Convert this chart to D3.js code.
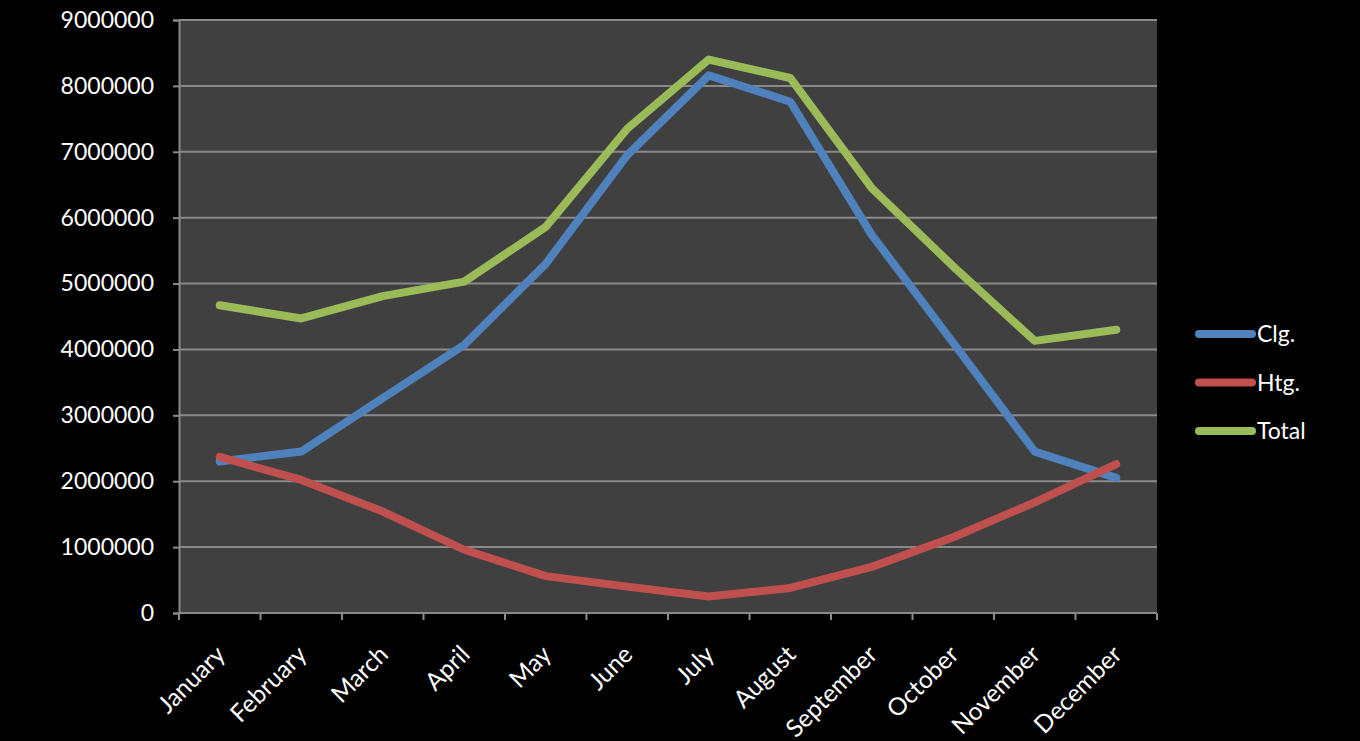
<!DOCTYPE html>
<html>
<head>
<meta charset="utf-8">
<script src="https://cdn.jsdelivr.net/npm/d3@7"></script>
<style>
  html, body { margin: 0; padding: 0; background: #000; }
  svg { display: block; }
  text { font-family: Lato, "Open Sans", sans-serif; fill: #fff; }
</style>
</head>
<body>
<svg id="chart" width="1360" height="741"></svg>
<script>
// Monthly loads
const months = ["January", "February", "March", "April", "May", "June",
                "July", "August", "September", "October", "November", "December"];
const clg   = [2300000, 2450000, 3260000, 4070000, 5300000, 6950000,
               8160000, 7760000, 5740000, 4100000, 2450000, 2050000];
const htg   = [2370000, 2020000, 1540000, 960000, 560000, 400000,
               250000, 380000, 700000, 1150000, 1680000, 2260000];
const total = [4670000, 4470000, 4810000, 5030000, 5860000, 7350000,
               8400000, 8120000, 6450000, 5260000, 4130000, 4300000];
const yTicks = [0, 1000000, 2000000, 3000000, 4000000, 5000000,
                6000000, 7000000, 8000000, 9000000];

const series = [
  { name: "Clg.",  values: clg,   color: "#4F81BD" },
  { name: "Htg.",  values: htg,   color: "#C0504D" },
  { name: "Total", values: total, color: "#9BBB59" }
];

const svg = d3.select("#chart");
const plotLeft = 179, plotRight = 1157, plotTop = 20, plotBottom = 613;

const x = d3.scaleBand().domain(months).range([plotLeft, plotRight]);
const y = d3.scaleLinear().domain([0, 9000000]).range([plotBottom, plotTop]);

// plot background
svg.append("rect")
  .attr("x", plotLeft).attr("y", plotTop)
  .attr("width", plotRight - plotLeft).attr("height", plotBottom - plotTop)
  .attr("fill", "#404040");

// horizontal gridlines
svg.append("g").selectAll("line")
  .data(yTicks)
  .join("line")
  .attr("x1", plotLeft).attr("x2", plotRight)
  .attr("y1", d => y(d)).attr("y2", d => y(d))
  .attr("stroke", "#8a8a8a").attr("stroke-width", 2);

// y axis
const yAxis = svg.append("g")
  .attr("transform", `translate(${plotLeft},0)`)
  .call(d3.axisLeft(y).tickValues(yTicks).tickFormat(d3.format("d"))
        .tickSize(6).tickPadding(19));
yAxis.select(".domain").attr("stroke", "#8a8a8a").attr("stroke-width", 2);
yAxis.selectAll(".tick line").attr("stroke", "#8a8a8a").attr("stroke-width", 2);
yAxis.selectAll(".tick text")
  .attr("fill", "#fff").style("font-size", "23px")
  .style("font-family", "Lato, 'Open Sans', sans-serif");

// x axis: ticks at band boundaries
const xAxisG = svg.append("g").attr("transform", `translate(0,${plotBottom})`);
xAxisG.append("line")
  .attr("x1", plotLeft).attr("x2", plotRight)
  .attr("stroke", "#8a8a8a").attr("stroke-width", 2);
const boundaries = months.map(m => x(m)).concat([plotRight]);
xAxisG.selectAll("line.tk")
  .data(boundaries)
  .join("line").attr("class", "tk")
  .attr("x1", d => d).attr("x2", d => d)
  .attr("y1", 0).attr("y2", 7)
  .attr("stroke", "#8a8a8a").attr("stroke-width", 2);
xAxisG.selectAll("text")
  .data(months)
  .join("text")
  .attr("text-anchor", "end")
  .attr("transform", d => `translate(${x(d) + x.bandwidth() / 2 + 7},${43}) rotate(-45)`)
  .style("font-size", "24.5px")
  .text(d => d);

// series lines
const line = d3.line()
  .x((d, i) => x(months[i]) + x.bandwidth() / 2)
  .y(d => y(d));

svg.append("g").selectAll("path")
  .data(series)
  .join("path")
  .attr("d", s => line(s.values))
  .attr("fill", "none")
  .attr("stroke", s => s.color)
  .attr("stroke-width", 8)
  .attr("stroke-linejoin", "round")
  .attr("stroke-linecap", "round");

// legend
const legend = svg.append("g").selectAll("g")
  .data(series)
  .join("g")
  .attr("transform", (s, i) => `translate(1199,${334 + i * 48.5})`);
legend.append("line")
  .attr("x1", 0).attr("x2", 53)
  .attr("stroke", s => s.color)
  .attr("stroke-width", 8)
  .attr("stroke-linecap", "round");
legend.append("text")
  .attr("x", 58).attr("dy", "0.36em")
  .style("font-size", "23px")
  .text(s => s.name);
</script>
</body>
</html>
